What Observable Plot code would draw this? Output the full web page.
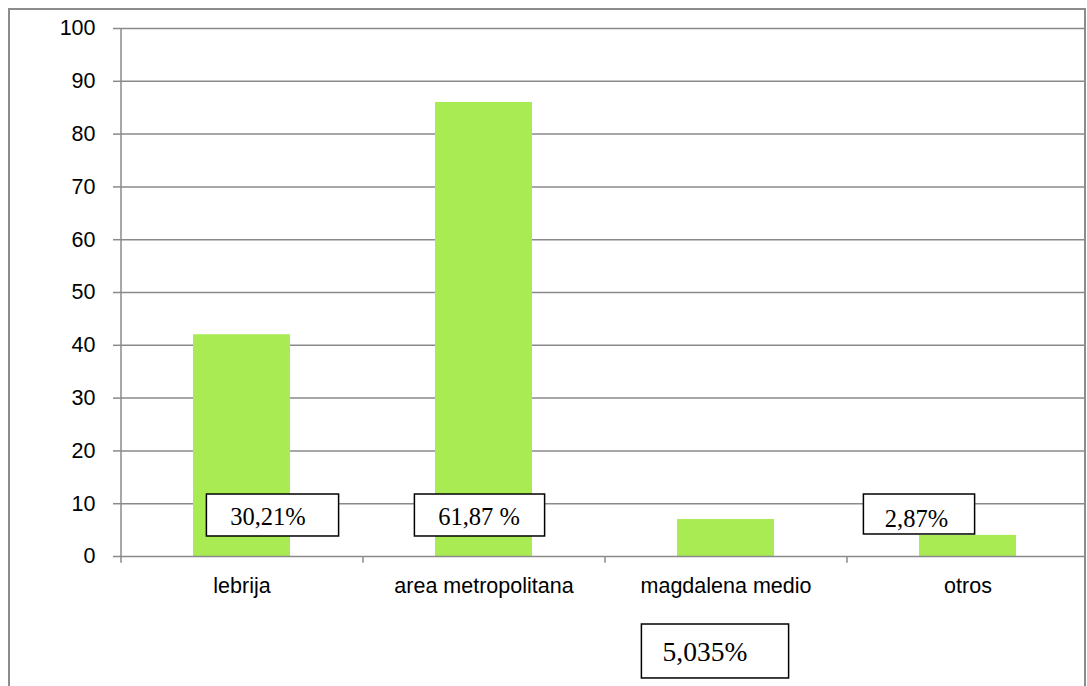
<!DOCTYPE html>
<html>
<head>
<meta charset="utf-8">
<script src="https://cdn.jsdelivr.net/npm/d3@7"></script>
<script src="https://cdn.jsdelivr.net/npm/@observablehq/plot@0.6"></script>
<style>
  html, body { margin: 0; padding: 0; background: white; overflow: hidden; }
  #wrap { position: relative; width: 1087px; height: 686px; }
  #chart { position: absolute; left: 0; top: 0; }
  #border { position: absolute; left: 8px; top: 8px; width: 1074px; height: 700px;
            border: 2px solid #8c8c8c; pointer-events: none; }
</style>
</head>
<body>
<div id="wrap"><div id="chart"></div><div id="border"></div></div>
<script>
// ---- data ----
const categories = ["lebrija", "area metropolitana", "magdalena medio", "otros"];
const values = [42, 86, 7, 4];
const yTicks = [0, 10, 20, 30, 40, 50, 60, 70, 80, 90, 100];
const percentLabels = ["30,21%", "61,87 %", "5,035%", "2,87%"];

const data = categories.map((c, i) => ({category: c, value: values[i]}));
const notes = categories.map((c, i) => ({category: c, label: percentLabels[i]}));

// ---- layout ----
const W = 1087, H = 686;
const xRange = [120, 1088];
const step = (xRange[1] - xRange[0]) / categories.length;
const grid = "#8a8a8a";

// placement of each annotation box (in y data units and pixel insets)
const place = [
  {y1: 3.79, y2: 11.74, insetLeft: 13.4, insetRight: -48.6, dx: 26, ty: 7.4, fs: 24.5},
  {y1: 3.79, y2: 11.74, insetLeft: -20.6, insetRight: -12.6, dx: -5, ty: 7.4, fs: 24.5},
  {y1: -23.1, y2: -12.88, insetLeft: -35.6, insetRight: -14.6, dx: -21, ty: -18.1, fs: 27.5},
  {y1: 4.17, y2: 11.74, insetLeft: -55.6, insetRight: 41.4, dx: -51.5, ty: 7.0, fs: 24.5}
];

const annMarks = [];
notes.forEach((n, i) => {
  const p = place[i];
  annMarks.push(Plot.barY([n], {
    x: "category", y1: () => p.y1, y2: () => p.y2,
    insetLeft: p.insetLeft, insetRight: p.insetRight,
    fill: "white", stroke: "black", strokeWidth: 1.5
  }));
  annMarks.push(Plot.text([n], {
    x: "category", y: () => p.ty, text: "label", dx: p.dx,
    fontFamily: "Liberation Serif", fontSize: p.fs, fill: "black"
  }));
});

const chart = Plot.plot({
  width: W, height: H,
  marginLeft: 120, marginRight: 2, marginTop: 28, marginBottom: 130,
  style: {fontFamily: "Liberation Sans, Arial, sans-serif", fontSize: "21px", color: "black", background: "transparent"},
  x: {domain: categories, range: xRange, paddingInner: 0.6, paddingOuter: 0.3, label: null},
  y: {domain: [0, 100], label: null},
  marks: [
    Plot.ruleY(yTicks.filter(t => t > 0), {stroke: grid, strokeWidth: 1.5}),
    Plot.barY(data, {x: "category", y: "value", fill: "#a9eb53"}),
    Plot.ruleY([0], {stroke: grid, strokeWidth: 1.5}),
    Plot.ruleX([categories[0]], {x: d => d, dx: -step / 2, y1: 100, y2: -1.3, stroke: grid, strokeWidth: 1.5}),
    Plot.ruleX(categories.slice(1), {x: d => d, dx: -step / 2, y1: 0, y2: -1.3, stroke: grid, strokeWidth: 1.5}),
    Plot.axisY(yTicks, {tickSize: 7, tickPadding: 18, stroke: grid, strokeWidth: 1.5, fill: "black", fontSize: 21.5, label: null}),
    Plot.axisX({tickSize: 0, tickPadding: 21, fill: "black", fontSize: 21.5, label: null}),
    ...annMarks
  ]
});
document.getElementById("chart").appendChild(chart);
</script>
</body>
</html>
